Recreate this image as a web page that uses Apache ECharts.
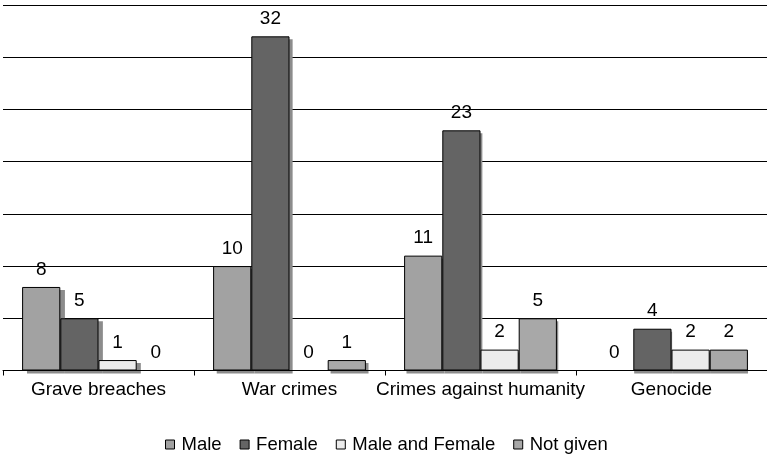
<!DOCTYPE html>
<html>
<head>
<meta charset="utf-8">
<script src="https://cdn.jsdelivr.net/npm/echarts@6/dist/echarts.min.js"></script>
<style>
html,body{margin:0;padding:0;background:#fff;}
#c{width:767px;height:457px;}
</style>
</head>
<body>
<div id="c"></div>
<script>
const categories = ['Grave breaches', 'War crimes', 'Crimes against humanity', 'Genocide'];
const seriesNames = ['Male', 'Female', 'Male and Female', 'Not given'];
const male = [8, 10, 11, 0];
const female = [5, 32, 23, 4];
const maleAndFemale = [1, 0, 2, 2];
const notGiven = [0, 1, 5, 2];
const colors = ['#a2a2a2', '#646464', '#ececec', '#a8a8a8'];
const shadowColor = '#8c8c8c';

const chart = echarts.init(document.getElementById('c'), null, {renderer: 'canvas'});
const font = 'Liberation Sans, Arial, sans-serif';
const dataSets = [male, female, maleAndFemale, notGiven];

// shadow bars: same data on an offset, hidden grid
const shadowSeries = dataSets.map((d, i) => ({
  name: seriesNames[i] + ' (shadow)',
  type: 'bar',
  xAxisIndex: 1,
  yAxisIndex: 1,
  data: d,
  barGap: '0%',
  barCategoryGap: '20%',
  itemStyle: {color: shadowColor, borderWidth: 0},
  silent: true,
  z: 1,
  emphasis: {disabled: true},
  animation: false
}));

const mainSeries = dataSets.map((d, i) => ({
  name: seriesNames[i],
  type: 'bar',
  data: d.map(v => v === 0
    ? {value: v, itemStyle: {borderWidth: 0, color: 'rgba(0,0,0,0)'}}
    : v),
  barGap: '0%',
  barCategoryGap: '20%',
  itemStyle: {
    color: colors[i],
    borderColor: '#000',
    borderWidth: 1
  },
  label: {
    show: true,
    position: 'top',
    distance: 8,
    color: '#000',
    fontSize: 19,
    fontFamily: font
  },
  z: 3,
  emphasis: {disabled: true},
  animation: false
}));

chart.setOption({
  animation: false,
  grid: [
    {left: 3, right: -5, top: 5, bottom: 86.5, containLabel: false},
    {left: 8, right: -10, top: 8, bottom: 83.5, containLabel: false}
  ],
  legend: {
    data: seriesNames,
    left: 160,
    top: 430,
    itemWidth: 9,
    itemHeight: 9,
    itemGap: 18,
    icon: 'rect',
    itemStyle: {borderColor: '#000', borderWidth: 1},
    textStyle: {fontSize: 18.5, color: '#000', fontFamily: font, padding: [0, 0, 0, 2]}
  },
  xAxis: [
    {
      type: 'category',
      gridIndex: 0,
      data: categories,
      z: 4,
      axisLine: {lineStyle: {color: '#000', width: 1}},
      axisTick: {show: true, length: 5, lineStyle: {color: '#000'}},
      axisLabel: {fontSize: 19, color: '#000', fontFamily: font, margin: 10, interval: 0}
    },
    {
      type: 'category',
      gridIndex: 1,
      data: categories,
      show: false
    }
  ],
  yAxis: [
    {
      type: 'value',
      gridIndex: 0,
      min: 0,
      max: 35,
      interval: 5,
      axisLine: {show: false},
      axisTick: {show: false},
      axisLabel: {show: false},
      splitLine: {lineStyle: {color: '#000', width: 1}}
    },
    {
      type: 'value',
      gridIndex: 1,
      min: 0,
      max: 35,
      interval: 5,
      show: false,
      splitLine: {show: false}
    }
  ],
  series: shadowSeries.concat(mainSeries)
});
</script>
</body>
</html>
